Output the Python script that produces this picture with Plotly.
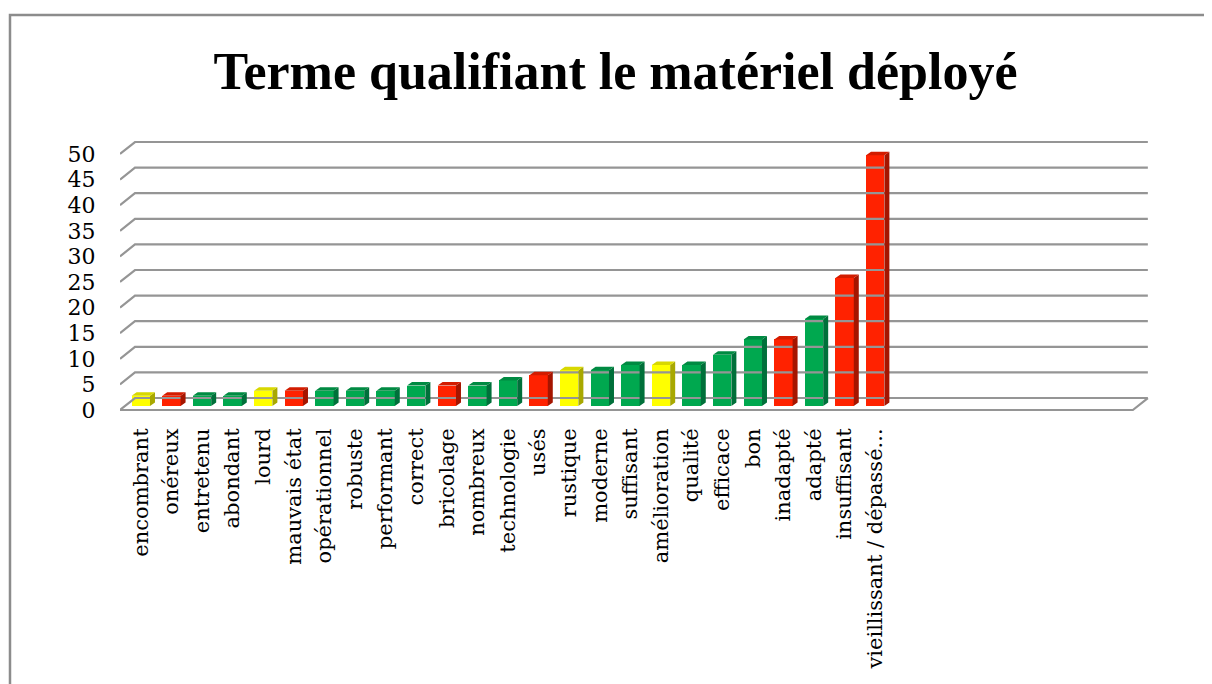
import plotly.graph_objects as go

# ---- data ----
categories = ["encombrant", "onéreux", "entretenu", "abondant", "lourd", "mauvais état",
              "opérationnel", "robuste", "performant", "correct", "bricolage", "nombreux",
              "technologie", "usés", "rustique", "moderne", "suffisant", "amélioration",
              "qualité", "efficace", "bon", "inadapté", "adapté", "insuffisant",
              "vieillissant / dépassé..."]
values = [2, 2, 2, 2, 3, 3, 3, 3, 3, 4, 4, 4, 5, 6, 7, 7, 8, 8, 8, 10, 13, 13, 17, 25, 49]
tones = ["y", "r", "g", "g", "y", "r", "g", "g", "g", "g", "r", "g", "g", "r", "y", "g",
         "g", "y", "g", "g", "g", "r", "g", "r", "r"]
y_ticks = [0, 5, 10, 15, 20, 25, 30, 35, 40, 45, 50]
title = "Terme qualifiant le matériel déployé"

# ---- style ----
FRONT = {"y": "#FFFF00", "r": "#FF2200", "g": "#00A84F"}
SIDE = {"y": "#A8A800", "r": "#A51500", "g": "#00703A"}
TOP = {"y": "#D8D800", "r": "#D21C00", "g": "#008A42"}
GRID = "#959595"
FONT = "DejaVu Serif"

n_slots = 33            # category slots on the axis (last ones empty)
DX, DY = 0.49, 2.34     # depth of the 3D floor / wall (axis units)
SX, SY = 0.18, 0.78     # bar position inside depth
BW = 0.6                # bar width
BDX, BDY = 0.163, 0.68  # bar depth

xs = list(range(len(categories)))
x_left, x_right = -0.5, n_slots - 0.4

fig = go.Figure()

# back wall gridlines + left diagonals
gx, gy = [], []
for t in y_ticks:
    gx += [x_left, x_left + DX, x_right + DX, None]
    gy += [t, t + DY, t + DY, None]
# floor front edge + right diagonal
gx += [x_left, x_right, x_right + DX, None]
gy += [0, 0, DY, None]
fig.add_trace(go.Scatter(x=gx, y=gy, mode="lines", line=dict(color=GRID, width=2.2),
                         hoverinfo="skip", showlegend=False))

# side & top faces
for tone in ["y", "r", "g"]:
    sx_, sy_, tx_, ty_ = [], [], [], []
    for i, v, t in zip(xs, values, tones):
        if t != tone:
            continue
        xl = i + SX - BW / 2
        xr = i + SX + BW / 2
        sx_ += [xr, xr + BDX, xr + BDX, xr, xr, None]
        sy_ += [SY, SY + BDY, v + SY + BDY, v + SY, SY, None]
        tx_ += [xl, xl + BDX, xr + BDX, xr, xl, None]
        ty_ += [v + SY, v + SY + BDY, v + SY + BDY, v + SY, v + SY, None]
    fig.add_trace(go.Scatter(x=sx_, y=sy_, mode="lines", fill="toself",
                             fillcolor=SIDE[tone], line=dict(width=0, color=SIDE[tone]),
                             hoverinfo="skip", showlegend=False))
    fig.add_trace(go.Scatter(x=tx_, y=ty_, mode="lines", fill="toself",
                             fillcolor=TOP[tone], line=dict(width=0, color=TOP[tone]),
                             hoverinfo="skip", showlegend=False))

# front faces
fig.add_trace(go.Bar(x=[i + SX for i in xs], y=values, base=SY, width=BW,
                     marker=dict(color=[FRONT[t] for t in tones], line=dict(width=0)),
                     showlegend=False, hovertext=categories))

# outer frame
fig.add_shape(type="rect", xref="paper", yref="paper", x0=-0.1068, x1=1.1, y0=-1.5, y1=1.4286,
              line=dict(color="#8C8C8C", width=2.5), layer="below")

fig.update_layout(
    width=1204, height=676,
    margin=dict(l=112, r=62, t=127, b=269, autoexpand=False),
    paper_bgcolor="white", plot_bgcolor="white",
    title=dict(text="<b>" + title + "</b>", x=0.5046, xanchor="center", y=0.907, yanchor="middle",
               font=dict(family="Liberation Serif", size=52, color="black")),
    xaxis=dict(range=[x_left, x_left + 1030 / 30.6], tickmode="array", automargin=False,
               tickvals=[i + SX for i in xs], ticktext=categories, tickangle=-90,
               showgrid=False, zeroline=False, showline=False, ticks="outside",
               ticklen=4, tickcolor="rgba(0,0,0,0)",
               tickfont=dict(family=FONT, size=21, color="black")),
    yaxis=dict(range=[-5 / 5.12, 275 / 5.12], tickmode="array", tickvals=y_ticks,
               automargin=False,
               showgrid=False, zeroline=False, showline=False, ticks="outside",
               ticklen=19, tickcolor="rgba(0,0,0,0)",
               tickfont=dict(family=FONT, size=22, color="black")),
    bargap=0,
)

fig.write_html("out.html")
